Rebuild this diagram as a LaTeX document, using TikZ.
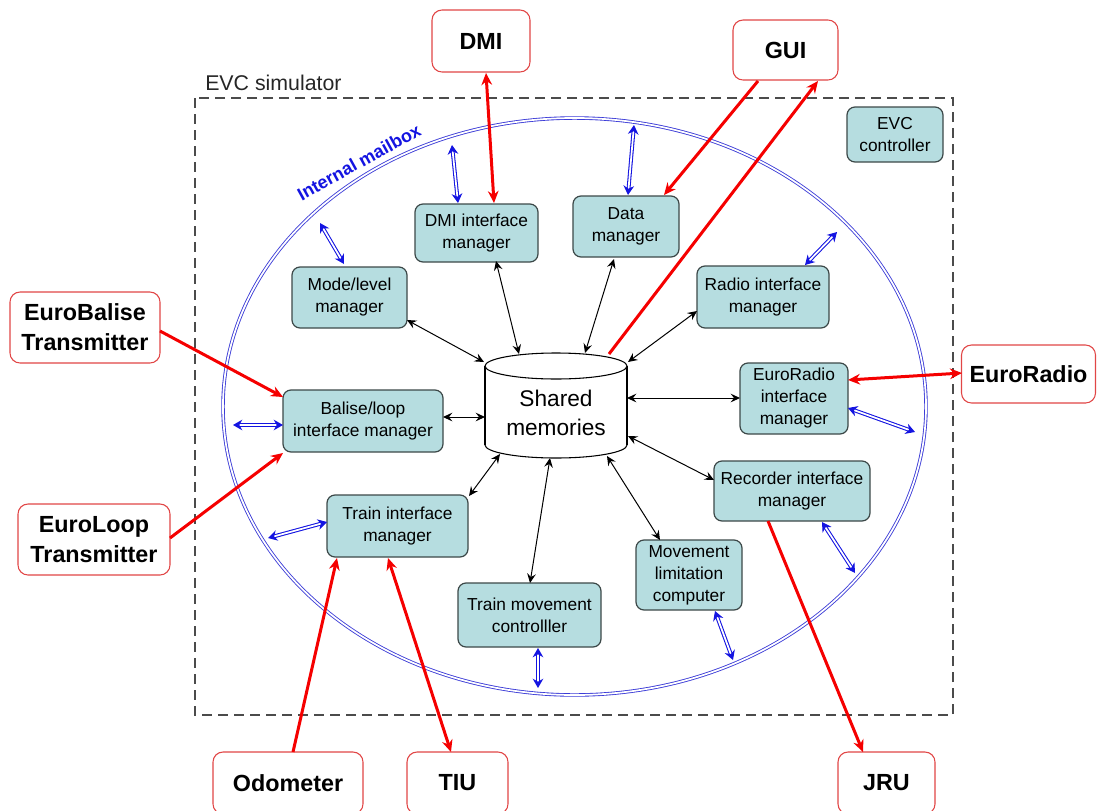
\documentclass[tikz,border=0pt]{standalone}
\usepackage{fontspec}
\setmainfont{Liberation Sans}
\usetikzlibrary{arrows.meta,calc,shapes.geometric}
\definecolor{teal1}{RGB}{182,221,224}
\definecolor{tealb}{RGB}{60,72,72}
\definecolor{extred}{RGB}{225,70,70}
\definecolor{arrred}{RGB}{245,0,0}
\definecolor{mbblue}{RGB}{20,20,225}
\definecolor{ellblue}{RGB}{60,60,215}
\definecolor{framegray}{RGB}{75,75,75}
\pgfdeclarelayer{bg}
\pgfsetlayers{bg,main}
\begin{document}
\begin{tikzpicture}[x=0.75pt,y=-0.75pt,
  mod/.style={draw=tealb, line width=0.9pt, fill=teal1, rounded corners=6pt, align=center, inner sep=1pt, font=\fontsize{13}{16.5}\selectfont},
  ext/.style={draw=extred, line width=0.8pt, fill=white, rounded corners=7.5pt, align=center, inner sep=1pt, font=\bfseries\fontsize{17.5}{22.5}\selectfont},
  blk/.style={draw=black, line width=0.75pt, arrows={Stealth[length=7pt,width=6.5pt,inset=2.5pt]-Stealth[length=7pt,width=6.5pt,inset=2.5pt]}},
  rd/.style={draw=arrred, line width=2.25pt},
  rdto/.style={rd, arrows={-Stealth[length=9pt,width=8pt]}},
  rdboth/.style={rd, arrows={Stealth[length=9pt,width=8pt]-Stealth[length=9pt,width=8pt]}},
  mb/.style={draw=mbblue, line width=0.8pt, double=white, double distance=1.3pt, arrows={Stealth[length=7pt,width=8pt]-Stealth[length=7pt,width=8pt]}}
]
\useasboundingbox (0,0) rectangle (1097,811);

% frame
\draw[framegray, line width=1.1pt, dash pattern=on 7.5pt off 4.5pt] (195,98) rectangle (953,715);
\node[anchor=west, inner sep=0pt, font=\fontsize{16}{19}\selectfont, text=black!85] (evcsim) at (205,83) {EVC simulator};

% mailbox
\node[ellipse, draw=ellblue, line width=0.65pt, double=white, double distance=1.3pt, minimum width=527.25pt, minimum height=432.75pt, inner sep=0pt] (mbox) at (574.5,406.5) {};
\node[rotate=29, text=mbblue, font=\bfseries\fontsize{13.5}{15}\selectfont] (mblabel) at (359,162) {Internal mailbox};

% modules
\node[mod, minimum width=92.25pt, minimum height=43.5pt] (dmiim) at (476.5,233) {DMI interface\\manager};
\node[mod, minimum width=86.25pt, minimum height=45.75pt] (mode) at (349.5,297.5) {Mode/level\\manager};
\node[mod, minimum width=79.5pt, minimum height=45.75pt] (datam) at (626,226.5) {Data\\manager};
\node[mod, minimum width=99pt, minimum height=46.5pt] (radioim) at (763,297) {Radio interface\\manager};
\node[mod, minimum width=72pt, minimum height=41.25pt] (evcc) at (895,134.5) {EVC\\controller};
\node[mod, minimum width=120pt, minimum height=46.5pt] (balise) at (363,421) {Balise/loop\\interface manager};
\node[mod, minimum width=105.75pt, minimum height=46.5pt] (trainim) at (397.5,526) {Train interface\\manager};
\node[mod, minimum width=81pt, minimum height=53.25pt] (erim) at (794,398.5) {EuroRadio\\interface\\manager};
\node[mod, minimum width=117pt, minimum height=45pt] (recim) at (792,491) {Recorder interface\\manager};
\node[mod, minimum width=79.5pt, minimum height=52.5pt] (mlc) at (689,575) {Movement\\limitation\\computer};
\node[mod, minimum width=107.25pt, minimum height=48pt] (tmc) at (529.5,615) {Train movement\\controlller};

% shared memories
\node[align=center, inner sep=0pt, font=\fontsize{17}{22}\selectfont] (sm) at (556,413) {Shared\\memories};
\begin{pgfonlayer}{bg}
\draw[line width=0.8pt, fill=white] ($(sm)+(0,32)$) ellipse[x radius=71, y radius=13];
\fill[white] ($(sm)+(-71,-47)$) rectangle ($(sm)+(71,32)$);
\draw[line width=0.8pt] ($(sm)+(-71,-47)$) -- ($(sm)+(-71,32)$);
\draw[line width=0.8pt] ($(sm)+(71,-47)$) -- ($(sm)+(71,32)$);
\draw[line width=0.8pt, fill=white] ($(sm)+(0,-47)$) ellipse[x radius=71, y radius=13];
\end{pgfonlayer}

% externals
\node[ext, minimum width=73.5pt, minimum height=46.5pt] (dmi) at (481,41) {DMI};
\node[ext, minimum width=78.75pt, minimum height=45pt] (gui) at (785.5,50) {GUI};
\node[ext, minimum width=112.5pt, minimum height=53.25pt] (eb) at (85,327.5) {EuroBalise\\Transmitter};
\node[ext, minimum width=114pt, minimum height=53.25pt] (el) at (94,539.5) {EuroLoop\\Transmitter};
\node[ext, minimum width=100.5pt, minimum height=43.5pt] (er) at (1028.5,374) {EuroRadio};
\node[ext, minimum width=112.5pt, minimum height=46.5pt] (odo) at (288,783) {Odometer};
\node[ext, minimum width=75.75pt, minimum height=46.5pt] (tiu) at (457.5,783) {TIU};
\node[ext, minimum width=72.75pt, minimum height=46.5pt] (jru) at (886.5,783) {JRU};

% black links to shared memories
\draw[blk] ($(sm)+(-37,-59)$) -- ($(dmiim)+(19.5,28)$);
\draw[blk] ($(sm)+(29,-60)$) -- ($(datam)+(-12,32.5)$);
\draw[blk] ($(sm)+(-72,-51)$) -- ($(mode)+(57.5,22.5)$);
\draw[blk] ($(sm)+(72,-51)$) -- ($(radioim)+(-66,14)$);
\draw[blk] ($(sm)+(-71,4)$) -- ($(balise)+(80,-4)$);
\draw[blk] ($(sm)+(71,-15)$) -- ($(erim)+(-54,-0.5)$);
\draw[blk] ($(sm)+(72,23)$) -- ($(recim)+(-78,-11)$);
\draw[blk] ($(sm)+(-56,41)$) -- ($(trainim)+(71.5,-30)$);
\draw[blk] ($(sm)+(-6,45)$) -- ($(tmc)+(0.5,-32)$);
\draw[blk] ($(sm)+(51,43)$) -- ($(mlc)+(-29,-35)$);

% blue mailbox links
\draw[mb] ($(mode)+(-5.5,-33.5)$) -- ($(mbox)+(-254.5,-183.5)$);
\draw[mb] ($(dmiim)+(-18.5,-30)$) -- ($(mbox)+(-122.5,-261.5)$);
\draw[mb] ($(datam)+(2,-31.5)$) -- ($(mbox)+(59.5,-281.5)$);
\draw[mb] ($(radioim)+(42,-32)$) -- ($(mbox)+(262.5,-174.5)$);
\draw[mb] ($(balise)+(-80,4)$) -- ($(mbox)+(-341.5,18.5)$);
\draw[mb] ($(trainim)+(-70.5,-4)$) -- ($(mbox)+(-306.5,131.5)$);
\draw[mb] ($(erim)+(54,9.5)$) -- ($(mbox)+(340.5,25.5)$);
\draw[mb] ($(recim)+(30,31)$) -- ($(mbox)+(280.5,166.5)$);
\draw[mb] ($(mlc)+(26,36)$) -- ($(mbox)+(158.5,253.5)$);
\draw[mb] ($(tmc)+(8.5,33)$) -- ($(mbox)+(-36.5,281.5)$);

% red external links
\draw[rdboth] ($(dmi)+(5,32)$) -- ($(dmiim)+(17.5,-30)$);
\draw[rdto] ($(gui)+(-27.5,31)$) -- ($(datam)+(38,-31.5)$);
\draw[rdto] ($(sm)+(53,-59)$) -- ($(gui)+(32.5,31)$);
\draw[rdto] ($(eb)+(75,3.5)$) -- ($(balise)+(-80,-24)$);
\draw[rdto] ($(el)+(76,-1.5)$) -- ($(balise)+(-80,32)$);
\draw[rdboth] ($(er)+(-66.5,-1)$) -- ($(erim)+(54,-18.5)$);
\draw[rdto] ($(odo)+(5,-31)$) -- ($(trainim)+(-60.5,32)$);
\draw[rdboth] ($(tiu)+(-6.5,-31)$) -- ($(trainim)+(-9.5,32)$);
\draw[rdto] ($(recim)+(-24,30)$) -- ($(jru)+(-23.5,-31)$);
\end{tikzpicture}
\end{document}
